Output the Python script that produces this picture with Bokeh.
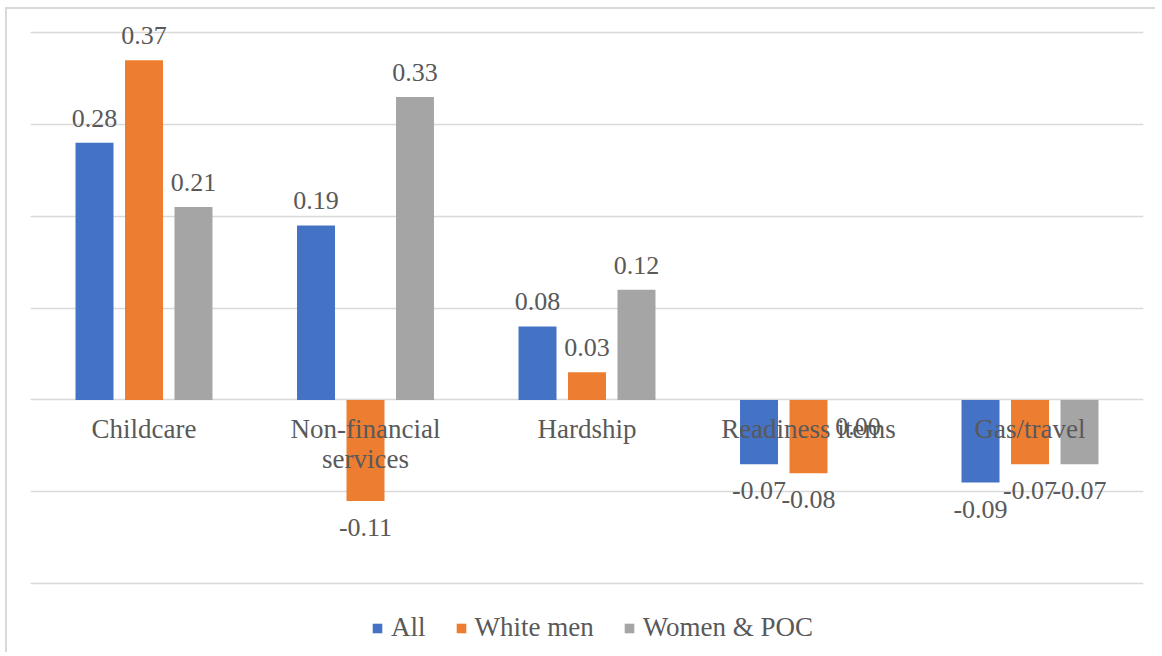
from bokeh.plotting import figure
from bokeh.models import (ColumnDataSource, FactorRange, FixedTicker, LabelSet,
                          Legend, LegendItem, Range1d)
from bokeh.transform import dodge
from bokeh.core.properties import value
from bokeh.embed import file_html
from bokeh.resources import INLINE

# ---- data ----
categories = ["Childcare", "Non-financial services", "Hardship", "Readiness items", "Gas/travel"]
tick_labels = ["Childcare", "Non-financial\nservices", "Hardship", "Readiness items", "Gas/travel"]
series_names = ["All", "White men", "Women & POC"]
all_vals = [0.28, 0.19, 0.08, -0.07, -0.09]
white_men_vals = [0.37, -0.11, 0.03, -0.08, -0.07]
women_poc_vals = [0.21, 0.33, 0.12, 0.00, -0.07]
y_ticks = [-0.2, -0.1, 0.0, 0.1, 0.2, 0.3, 0.4]

colors = ["#4472C4", "#ED7D31", "#A5A5A5"]
FONT = "Liberation Serif"
TXT = "#595959"

# ---- layout (pixels) ----
W, H = 1150, 645
PX_PER_UNIT = 918.0
top_extra = (32.2 - 9) / PX_PER_UNIT      # space above 0.4 line
bot_extra = (654 - 583) / PX_PER_UNIT     # space below -0.2 line

x_range = FactorRange(factors=categories, range_padding=0.0124,
                      range_padding_units="absolute")
p = figure(x_range=x_range,
           y_range=Range1d(min(y_ticks) - bot_extra, max(y_ticks) + top_extra),
           width=W, height=H,
           output_backend="svg", toolbar_location=None,
           min_border_left=23, min_border_right=14,
           min_border_top=0, min_border_bottom=0)
p.styles = {"margin-left": "5px", "margin-top": "7px",
            "border-left": "2px solid #D9D9D9", "border-top": "2px solid #D9D9D9"}
p.outline_line_color = None
p.xaxis.visible = False
p.yaxis.visible = False
p.xgrid.grid_line_color = None
p.ygrid.ticker = FixedTicker(ticks=y_ticks)
p.ygrid.grid_line_color = "#D9D9D9"
p.ygrid.grid_line_width = 1.5

offsets = [-0.2234, 0.0, 0.2234]
vals = [all_vals, white_men_vals, women_poc_vals]
items = []
for name, v, off, c in zip(series_names, vals, offsets, colors):
    src = ColumnDataSource(dict(
        cat=categories, val=v,
        txt=["%.2f" % x for x in v],
        yoff=[16 if x > 0 else -35 for x in v]))
    r = p.vbar(x=dodge("cat", off, range=p.x_range), top="val", bottom=0,
               width=0.1715, source=src, fill_color=c, line_color=None)
    items.append(LegendItem(label=name, renderers=[r]))
    p.add_layout(LabelSet(x=dodge("cat", off, range=p.x_range), y="val", text="txt",
                          y_offset="yoff", source=src, text_align="center",
                          text_baseline="alphabetic", text_font=value(FONT),
                          text_font_size="26px", text_color=TXT))

# category labels (placed just below the zero line, as in the original)
lab_x, lab_t, lab_off = [], [], []
for cat, lab in zip(categories, tick_labels):
    for i, line in enumerate(lab.split("\n")):
        lab_x.append(cat)
        lab_t.append(line)
        lab_off.append(-38 - 30 * i)
lsrc = ColumnDataSource(dict(x=lab_x, y=[0] * len(lab_x), t=lab_t, off=lab_off))
p.add_layout(LabelSet(x="x", y="y", text="t", y_offset="off", source=lsrc,
                      text_align="center", text_baseline="alphabetic",
                      text_font=value(FONT), text_font_size="27px", text_color=TXT))

legend = Legend(items=items, orientation="horizontal", location=(341, 11),
                glyph_width=12, glyph_height=12, label_standoff=8, spacing=29,
                padding=0, margin=0, border_line_color=None,
                background_fill_alpha=0,
                label_text_font=FONT, label_text_font_size="27px",
                label_text_color=TXT)
p.add_layout(legend, "center")

open("out.html", "w").write(file_html(p, INLINE))
